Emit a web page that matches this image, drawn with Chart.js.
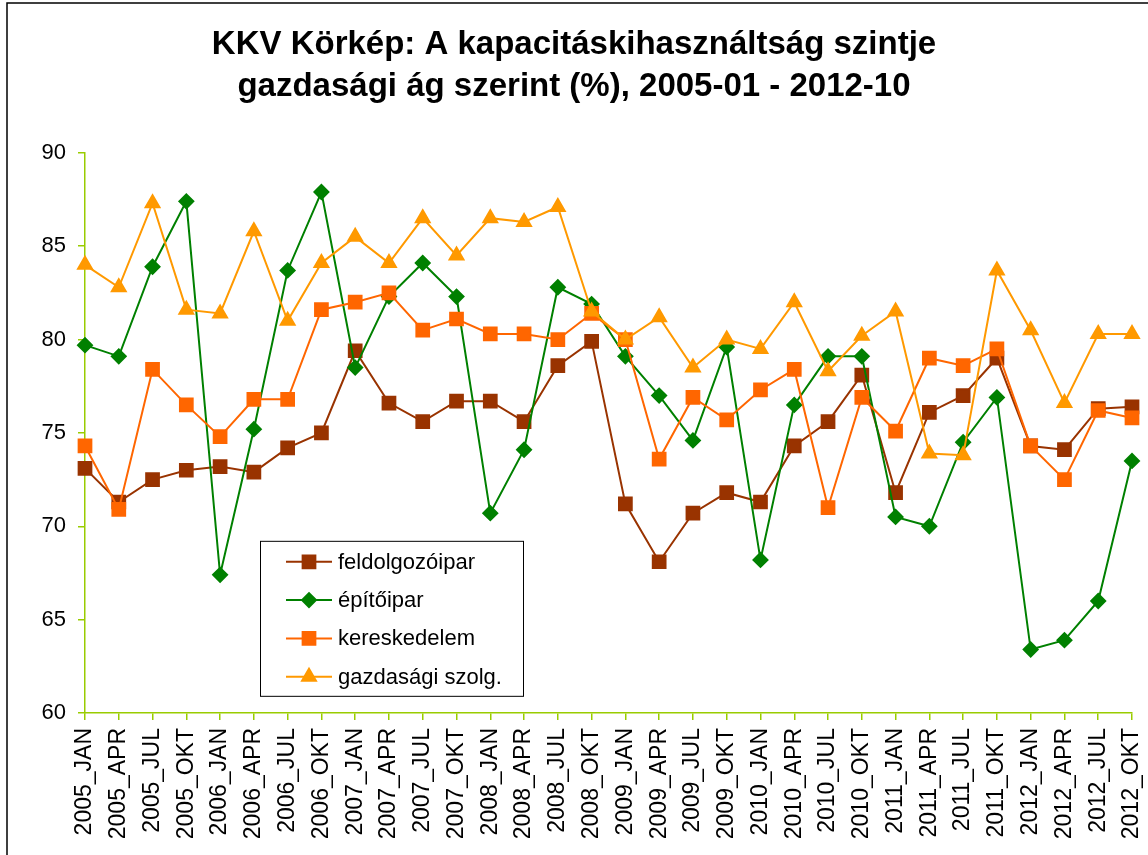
<!DOCTYPE html>
<html>
<head>
<meta charset="utf-8">
<script src="https://cdn.jsdelivr.net/npm/chart.js@4"></script>
<style>
body{margin:0;background:#fff}
#wrap{width:1148px;height:855px}
</style>
</head>
<body>
<div id="wrap"><canvas id="kkvChart"></canvas></div>
<script>
Chart.defaults.font.family = "'Liberation Sans', Arial, sans-serif"
Chart.defaults.color = '#000'

const labels = ['2005_JAN','2005_APR','2005_JUL','2005_OKT','2006_JAN','2006_APR','2006_JUL','2006_OKT',
    '2007_JAN','2007_APR','2007_JUL','2007_OKT','2008_JAN','2008_APR','2008_JUL','2008_OKT',
    '2009_JAN','2009_APR','2009_JUL','2009_OKT','2010_JAN','2010_APR','2010_JUL','2010_OKT',
    '2011_JAN','2011_APR','2011_JUL','2011_OKT','2012_JAN','2012_APR','2012_JUL','2012_OKT']

const feldolgozoipar = [73.1, 71.3, 72.5, 73.0, 73.2, 72.9, 74.2, 75.0, 79.4, 76.6, 75.6, 76.7, 76.7, 75.6, 78.6, 79.9,
    71.2, 68.1, 70.7, 71.8, 71.3, 74.3, 75.6, 78.1, 71.8, 76.1, 77.0, 79.0, 74.3, 74.1, 76.3, 76.4]
const epitoipar = [79.7, 79.1, 83.9, 87.4, 67.4, 75.2, 83.7, 87.9, 78.5, 82.3, 84.1, 82.3, 70.7, 74.1, 82.8, 81.9,
    79.1, 77.0, 74.6, 79.6, 68.2, 76.5, 79.1, 79.1, 70.5, 70.0, 74.5, 76.9, 63.4, 63.9, 66.0, 73.5]
const kereskedelem = [74.3, 70.9, 78.4, 76.5, 74.8, 76.8, 76.8, 81.6, 82.0, 82.5, 80.5, 81.1, 80.3, 80.3, 80.0, 81.4,
    80.0, 73.6, 76.9, 75.7, 77.3, 78.4, 71.0, 76.9, 75.1, 79.0, 78.6, 79.5, 74.3, 72.5, 76.2, 75.8]
const gazdasagiSzolg = [84.0, 82.8, 87.3, 81.6, 81.4, 85.8, 81.0, 84.1, 85.5, 84.1, 86.5, 84.5, 86.5, 86.3, 87.1, 81.5,
    80.0, 81.2, 78.5, 80.0, 79.5, 82.0, 78.3, 80.2, 81.5, 73.9, 73.8, 83.7, 80.5, 76.6, 80.3, 80.3]

const axisColor = '#99CC00'

const series = (label, data, color, style, radius, order) => ({
    label, data, order,
    borderColor: color,
    backgroundColor: color,
    pointBackgroundColor: color,
    pointBorderColor: color,
    pointStyle: style,
    pointRadius: radius,
    pointHoverRadius: radius,
    borderWidth: 2,
    tension: 0
})

// white page + the black frame of the original chart object
const frame = {
    id: 'frame',
    beforeDraw(chart) {
        const c = chart.ctx
        c.save()
        c.fillStyle = '#fff'
        c.fillRect(0, 0, chart.width, chart.height)
        c.strokeStyle = '#000'
        c.lineWidth = 1.5
        c.strokeRect(7, 3, chart.width + 20, chart.height + 20)
        c.restore()
    }
}

// legend box sitting inside the plot area
const boxLegend = {
    id: 'boxLegend',
    afterDatasetsDraw(chart) {
        const c = chart.ctx
        const a = chart.chartArea
        const x = a.left + 175, y = a.top + 388, w = 263, h = 155
        c.save()
        c.fillStyle = '#fff'
        c.fillRect(x, y, w, h)
        c.strokeStyle = '#000'
        c.lineWidth = 1
        c.strokeRect(x + 0.5, y + 0.5, w, h)
        c.font = "22px 'Liberation Sans', Arial, sans-serif"
        c.textBaseline = 'middle'
        chart.data.datasets.forEach((ds, i) => {
            const ry = y + 21 + i * 38.3
            c.strokeStyle = ds.borderColor
            c.lineWidth = 2
            c.beginPath()
            c.moveTo(x + 26, ry)
            c.lineTo(x + 72, ry)
            c.stroke()
            c.fillStyle = ds.borderColor
            Chart.helpers.drawPoint(c, {pointStyle: ds.pointStyle, radius: ds.pointRadius, rotation: 0, borderWidth: 1}, x + 49, ry)
            c.fillStyle = '#000'
            c.fillText(ds.label, x + 78, ry + 1)
        })
        c.restore()
    }
}

new Chart('kkvChart', {
    type: 'line',
    data: {
        labels,
        datasets: [
            series('feldolgozóipar', feldolgozoipar, '#993300', 'rect', 9, 4),
            series('építőipar', epitoipar, '#008000', 'rectRot', 7, 3),
            series('kereskedelem', kereskedelem, '#FF6600', 'rect', 9, 2),
            series('gazdasági szolg.', gazdasagiSzolg, '#FF9900', 'triangle', 8, 1)
        ]
    },
    options: {
        responsive: true,
        maintainAspectRatio: false,
        animation: false,
        layout: {padding: {left: 0, right: 0, top: 0, bottom: 0}},
        plugins: {
            legend: {display: false},
            tooltip: {enabled: false},
            title: {
                display: true,
                text: ['KKV Körkép: A kapacitáskihasználtság szintje', 'gazdasági ág szerint (%), 2005-01 - 2012-10'],
                font: {size: 33, weight: 'bold', lineHeight: 1.27},
                color: '#000',
                padding: {top: 24, bottom: 45}
            }
        },
        scales: {
            x: {
                offset: false,
                grid: {display: true, drawOnChartArea: false, drawTicks: true, tickLength: 7, color: axisColor, lineWidth: 1.5},
                border: {color: axisColor, width: 1.5},
                ticks: {autoSkip: false, maxRotation: 90, minRotation: 90, padding: 8, font: {size: 23}, color: '#000'},
                afterFit: s => {
                    s.height = 142
                    s.paddingLeft = 0
                    s.paddingRight = 16
                }
            },
            y: {
                min: 60,
                max: 90,
                grid: {display: true, drawOnChartArea: false, drawTicks: true, tickLength: 7, color: axisColor, lineWidth: 1.5},
                border: {color: axisColor, width: 1.5},
                ticks: {stepSize: 5, padding: 12, font: {size: 22}, color: '#000'},
                afterFit: s => { s.width = 85 }
            }
        }
    },
    plugins: [frame, boxLegend]
})
</script>
</body>
</html>
